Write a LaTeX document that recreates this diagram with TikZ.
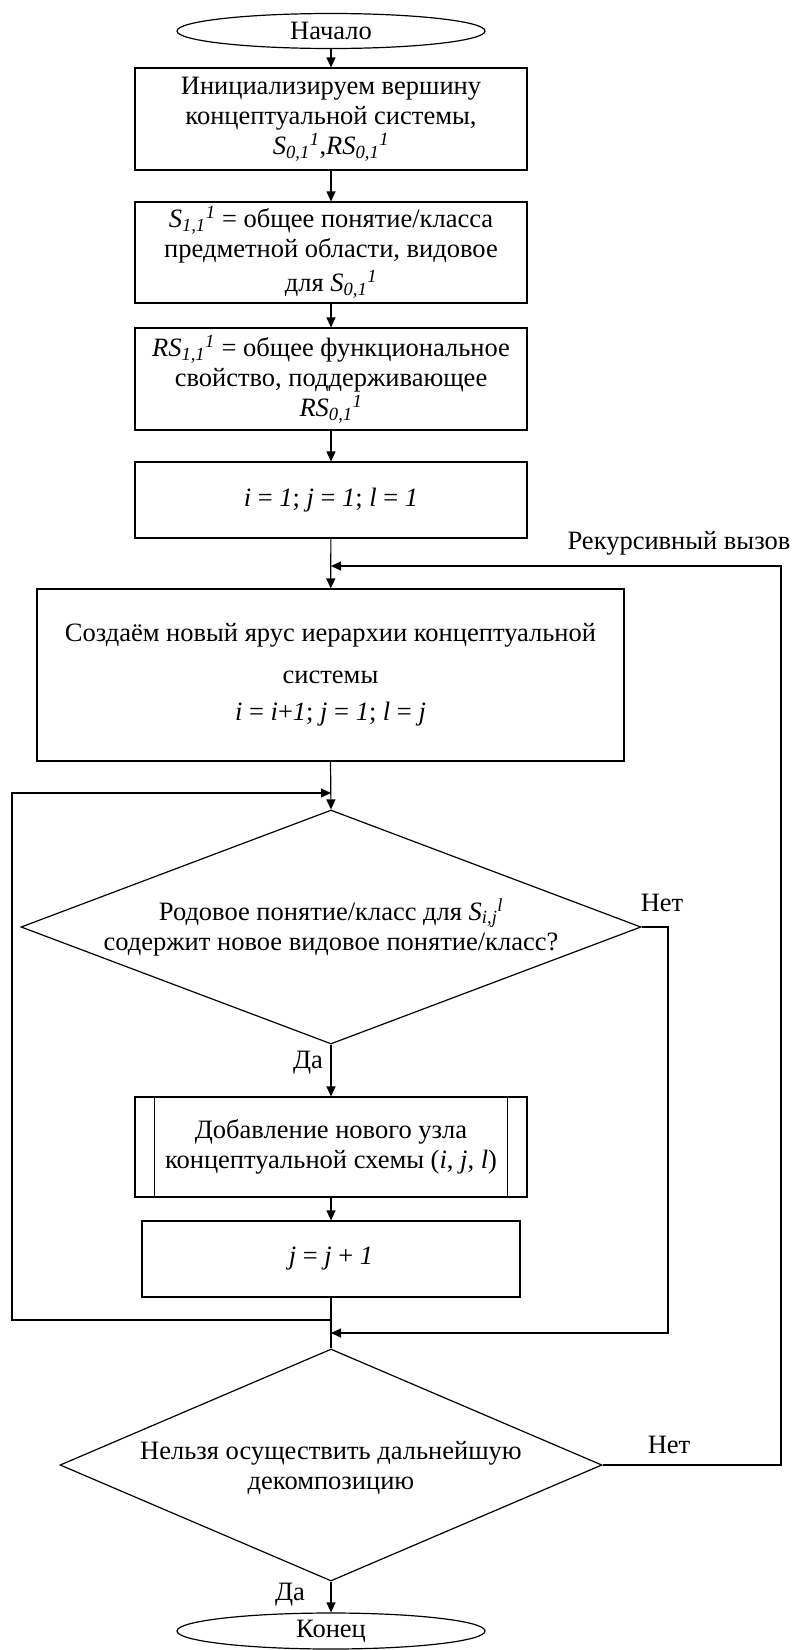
\documentclass[tikz,border=0pt]{standalone}
\usepackage{fontspec}
\setmainfont{Liberation Serif}
\usetikzlibrary{shapes.geometric,arrows.meta}
\newcommand{\SV}[3]{\textit{#1}\textsubscript{\textit{#2}}\textsuperscript{\textit{#3}}}
\begin{document}
\begin{tikzpicture}[x=1pt,y=-1pt,
  every node/.style={font=\fontsize{26.5}{30}\selectfont},
  box/.style={draw, line width=1.2pt, rectangle, inner sep=0pt, align=center},
  term/.style={draw, line width=1.2pt, ellipse, inner sep=0pt, minimum width=308pt, minimum height=35pt},
  dec/.style={draw, line width=1.2pt, diamond, inner sep=0pt},
  txt/.style={align=center, inner sep=0pt},
  arr/.style={line width=1.2pt, -{Triangle[length=10pt,width=9pt]}},
  ln/.style={line width=1.2pt}]
\useasboundingbox (0,0) rectangle (797,1650);

% nodes
\node[term] (start) at (331,31) {Начало};
\node[box, minimum width=392pt, minimum height=102pt] (b1) at (331,119)
  {Инициализируем вершину\\ концептуальной системы,\\ \SV{S}{0,1}{1},\SV{RS}{0,1}{1}};
\node[box, minimum width=392pt, minimum height=101pt] (b2) at (331,252.5)
  {\SV{S}{1,1}{1} = общее понятие/класса\\ предметной области, видовое\\[4pt] для \SV{S}{0,1}{1}};
\node[box, minimum width=392pt, minimum height=102pt] (b3) at (331,379)
  {\SV{RS}{1,1}{1} = общее функциональное\\ свойство, поддерживающее\\ \SV{RS}{0,1}{1}};
\node[box, minimum width=392pt, minimum height=76pt] (b4) at (331,500)
  {\textit{i} = \textit{1}; \textit{j} = \textit{1}; \textit{l} = \textit{1}};
\node[box, minimum width=587pt, minimum height=172pt] (b5) at (330.5,675)
  {Создаём новый ярус иерархии концептуальной\\[12pt] системы\\[7pt]
   \textit{i} = \textit{i}+\textit{1}; \textit{j} = \textit{1}; \textit{l} = \textit{j}};
\node[dec, minimum width=620pt, minimum height=234pt] (d1) at (331,927) {};
\node[txt] (d1t) at (331,927)
  {Родовое понятие/класс для \SV{S}{i,j}{l}\\ содержит новое видовое понятие/класс?};
\node[box, minimum width=392pt, minimum height=100pt] (b6) at (331,1147)
  {Добавление нового узла\\ концептуальной схемы (\textit{i}, \textit{j}, \textit{l})};
\draw[ln] ([xshift=20pt]b6.north west) -- ([xshift=20pt]b6.south west);
\draw[ln] ([xshift=-20pt]b6.north east) -- ([xshift=-20pt]b6.south east);
\node[box, minimum width=378pt, minimum height=76pt] (b7) at (331,1259)
  {\textit{j} = \textit{j} + \textit{1}};
\node[dec, minimum width=542pt, minimum height=232pt] (d2) at (331,1465) {};
\node[txt] (d2t) at (331,1468)
  {Нельзя осуществить дальнейшую\\ декомпозицию};
\node[term, minimum height=36pt] (end) at (331,1631) {Конец};

% labels
\node[txt] (lrec) at (679,543) {Рекурсивный вызов};
\node[txt] (lno1) at (662,903) {Нет};
\node[txt] (lyes1) at (308,1063) {Да};
\node[txt] (lno2) at (669,1445) {Нет};
\node[txt] (lyes2) at (290,1595) {Да};

% helper coordinates
\coordinate (recR) at (781,566);
\coordinate (recJ) at (331,566);
\coordinate (loopB) at (331,1320);
\coordinate (loopBL) at (12,1320);
\coordinate (loopTL) at (12,793);
\coordinate (loopT) at (331,793);
\coordinate (noR) at (668,927);
\coordinate (noRB) at (668,1333);
\coordinate (noJ) at (331,1333);

% connectors
\draw[arr] (start) -- (b1);
\draw[arr] (b1) -- (b2);
\draw[arr] (b2) -- (b3);
\draw[arr] (b3) -- (b4);
\draw[arr] (b4) -- (b5);
\draw[arr] (b5.south) -- (d1.north);
\draw[arr] (d1.south) -- (b6.north);
\draw[arr] (b6) -- (b7);
\draw[ln] (b7.south) -- (d2.north);
\draw[arr] (d2.south) -- (end.north);
\draw[arr] (loopB) -- (loopBL) -- (loopTL) -- (loopT);
\draw[arr] (d1.east) -- (noR) -- (noRB) -- (noJ);
\draw[arr] (d2.east) -- (d2.east -| recR) -- (recR) -- (recJ);
\end{tikzpicture}
\end{document}
